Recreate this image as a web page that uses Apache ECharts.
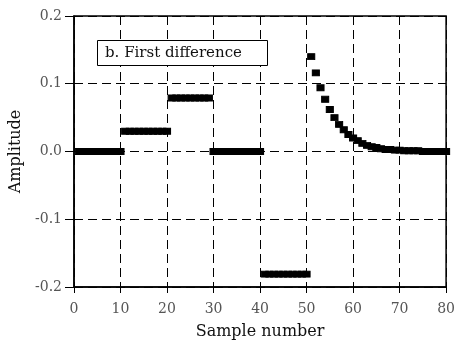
<!DOCTYPE html>
<html>
<head>
<meta charset="utf-8">
<script src="https://cdn.jsdelivr.net/npm/echarts@6/dist/echarts.min.js"></script>
<style>
html,body{margin:0;padding:0;background:#fff;}
#chart{width:458px;height:345px;}
</style>
</head>
<body>
<div id="chart"></div>
<script>
// samples and first difference values
var samples = [];
for (var i = 1; i <= 80; i++) samples.push(i);
var seg0 = [0,0,0,0,0,0,0,0,0,0];                       // 1..10
var seg1 = [0.03,0.03,0.03,0.03,0.03,0.03,0.03,0.03,0.03,0.03]; // 11..20
var seg2 = [0.079,0.079,0.079,0.079,0.079,0.079,0.079,0.079,0.079]; // 21..29
var seg3 = [0,0,0,0,0,0,0,0,0,0,0];                     // 30..40
var seg4 = [-0.181,-0.181,-0.181,-0.181,-0.181,-0.181,-0.181,-0.181,-0.181,-0.181]; // 41..50
var seg5 = [0.140,0.116,0.094,0.077,0.062,0.050,0.040,0.032,0.025,0.020,
            0.016,0.012,0.009,0.007,0.006,0.004,0.003,0.003,0.002,0.002,
            0.001,0.001,0.001,0.001,0,0,0,0,0,0];       // 51..80
var values = seg0.concat(seg1, seg2, seg3, seg4, seg5);
var xTicks = [0,10,20,30,40,50,60,70,80];
var yTicks = [-0.2,-0.1,0.0,0.1,0.2];

var pts = samples.map(function(s, k){ return [s, values[k]]; });

var chart = echarts.init(document.getElementById('chart'));
var font = '"DejaVu Serif", "Liberation Serif", serif';
chart.setOption({
  animation: false,
  title: {
    text: 'b. First difference',
    left: 97, top: 40,
    padding: [6, 26, 5, 8],
    borderColor: '#000', borderWidth: 1,
    backgroundColor: '#fff',
    textStyle: {fontFamily: font, fontSize: 15, fontWeight: 'normal', color: '#111'}
  },
  grid: {left: 71, right: 8, top: 16, bottom: 57, show: true, borderColor: '#000', borderWidth: 1.5},
  xAxis: {
    type: 'value', min: xTicks[0], max: xTicks[xTicks.length-1], interval: 10,
    name: 'Sample number', nameLocation: 'middle', nameGap: 37,
    nameTextStyle: {fontFamily: font, fontSize: 16, color: '#111'},
    axisLine: {onZero: false, lineStyle: {color: '#000', width: 1.5}},
    axisTick: {show: true, inside: false, length: 6, lineStyle: {color: '#000'}},
    axisLabel: {fontFamily: font, fontSize: 14, color: '#555', margin: 15},
    splitLine: {show: true, lineStyle: {color: '#000', type: [9, 5], width: 1}}
  },
  yAxis: {
    type: 'value', min: yTicks[0], max: yTicks[yTicks.length-1], interval: 0.1,
    name: 'Amplitude', nameLocation: 'middle', nameGap: 50,
    nameTextStyle: {fontFamily: font, fontSize: 16, color: '#111'},
    axisLine: {show: true, lineStyle: {color: '#000', width: 1.5}},
    axisTick: {show: true, inside: false, length: 9, lineStyle: {color: '#000'}},
    axisLabel: {fontFamily: font, fontSize: 14, color: '#555', margin: 12,
      formatter: function(v){ return v.toFixed(1); }},
    splitLine: {show: true, lineStyle: {color: '#000', type: [9, 5], width: 1}}
  },
  series: [{
    type: 'scatter',
    data: pts,
    symbol: 'rect',
    symbolSize: [7, 6],
    itemStyle: {color: '#000', borderColor: '#000', borderWidth: 1, opacity: 1},
    z: 3
  }]
});
</script>
</body>
</html>
